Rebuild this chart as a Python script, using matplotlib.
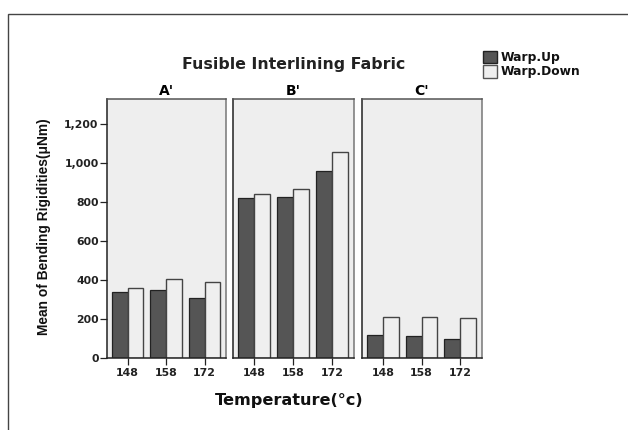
import matplotlib
matplotlib.use("Agg")
import matplotlib.pyplot as plt
from matplotlib.patches import Rectangle
import numpy as np

plt.rcParams['font.family'] = ['DejaVu Sans']

panels = ["A'", "B'", "C'"]
temperatures = ["148", "158", "172"]
warp_up = {
    "A'": [336, 350, 310],
    "B'": [820, 826, 961],
    "C'": [120, 112, 96],
}
warp_down = {
    "A'": [360, 405, 389],
    "B'": [842, 866, 1054],
    "C'": [211, 208, 203],
}
yticks = [0, 200, 400, 600, 800, 1000, 1200]
yticklabels = ["0", "200", "400", "600", "800", "1,000", "1,200"]

W, H = 628, 430
fig = plt.figure(figsize=(W / 100, H / 100), dpi=100)

# outer frame
fig.patches.append(Rectangle((8 / W, -0.01), 1.02, 1 - 14 / H + 0.01,
                             transform=fig.transFigure, fill=False,
                             edgecolor='#444444', linewidth=1.0))

lefts = [107, 233, 362]
widths = [119, 121, 120]
bottom_px, top_px = 358, 99
up_color = '#555555'
down_color = '#efefef'
bw = 0.41
x = np.arange(len(temperatures))

axes = []
for i, p in enumerate(panels):
    ax = fig.add_axes([lefts[i] / W, 1 - bottom_px / H, widths[i] / W,
                       (bottom_px - top_px) / H])
    ax.set_facecolor('#eeeeee')
    ax.bar(x - bw / 2, warp_up[p], width=bw, color=up_color,
           edgecolor='#222222', linewidth=0.9, label='Warp.Up', zorder=2)
    ax.bar(x + bw / 2, warp_down[p], width=bw, color=down_color,
           edgecolor='#444444', linewidth=1.0, label='Warp.Down', zorder=2)
    ax.set_xlim(-0.54, 2.56)
    ax.set_ylim(0, 1328)
    ax.set_xticks(x)
    ax.set_xticklabels(temperatures, fontsize=7.9, fontweight='bold',
                       color='#222222')
    ax.tick_params(axis='x', length=5, width=0.9, color='#222222', pad=2)
    for s in ax.spines.values():
        s.set_linewidth(1.1)
    ax.spines['left'].set_color('#222222')
    ax.spines['bottom'].set_color('#222222')
    ax.spines['top'].set_color('#555555')
    ax.spines['right'].set_color('#777777')
    if i == 0:
        ax.set_yticks(yticks)
        ax.set_yticklabels(yticklabels, fontsize=7.8, fontweight='bold',
                           color='#222222')
        ax.tick_params(axis='y', length=5, width=0.9, color='#222222', pad=1)
    else:
        ax.set_yticks([])
    ax.set_title(p, fontsize=10, fontweight='bold', pad=3)
    axes.append(ax)

fig.text(294 / W, 1 - 64 / H, "Fusible Interlining Fabric", ha='center',
         va='center', fontsize=11.3, fontweight='bold', color='#222222')
fig.text(289 / W, 1 - 400 / H, "Temperature(°c)", ha='center', va='center',
         fontsize=11.6, fontweight='bold', color='#111111')
fig.text(44 / W, 1 - 227 / H, "Mean of Bending Rigidities(μNm)", ha='center',
         va='center', rotation=90, fontsize=9.9, fontweight='bold',
         color='#111111', family=['Liberation Sans', 'DejaVu Sans'])

# legend
for j, (lab, col, ec) in enumerate([("Warp.Up", up_color, '#222222'),
                                    ("Warp.Down", down_color, '#555555')]):
    yc = 57 + 14.5 * j
    fig.patches.append(Rectangle((483 / W, 1 - (yc + 6) / H), 14 / W, 12 / H,
                                 transform=fig.transFigure, facecolor=col,
                                 edgecolor=ec, linewidth=1.0))
    fig.text(501 / W, 1 - yc / H, lab, ha='left', va='center', fontsize=8.8,
             fontweight='bold', color='#111111')

fig.savefig("out.png", dpi=100)
